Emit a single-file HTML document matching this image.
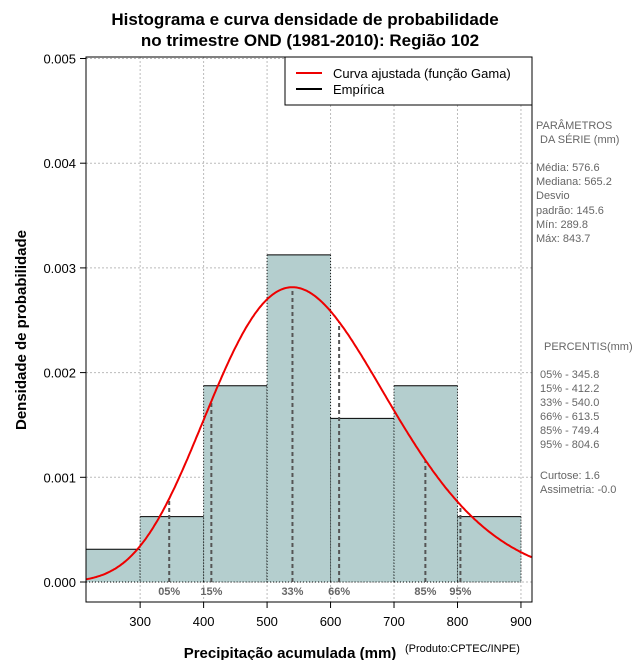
<!DOCTYPE html>
<html><head><meta charset="utf-8"><style>
body{margin:0;background:#fff}
svg text{font-family:"Liberation Sans",sans-serif}
</style></head><body>
<svg id="c" width="640" height="660" xmlns="http://www.w3.org/2000/svg">
<text x="305" y="25" text-anchor="middle" font-size="17" font-weight="bold">Histograma e curva densidade de probabilidade</text>
<text x="310" y="46" text-anchor="middle" font-size="17" font-weight="bold">no trimestre OND (1981-2010): Região 102</text>
<g id="grid"></g><g id="bars"></g><g id="pct"></g><g id="curve"></g><g id="axes"></g>
<rect x="86" y="57" width="446" height="545" fill="none" stroke="#000" stroke-width="1"/>
<g>
<rect x="285" y="57" width="247" height="48" fill="#fff" stroke="#000"/>
<line x1="296" y1="73" x2="322" y2="73" stroke="#e00" stroke-width="2"/>
<text x="333" y="78" font-size="13">Curva ajustada (função Gama)</text>
<line x1="296" y1="89" x2="322" y2="89" stroke="#000" stroke-width="2"/>
<text x="333" y="94" font-size="13">Empírica</text>
</g>
<g font-size="11" fill="#666">
<text x="536" y="129">PARÂMETROS</text><text x="540" y="143">DA SÉRIE (mm)</text>
<text x="536" y="171">Média:  576.6</text><text x="536" y="185">Mediana:  565.2</text>
<text x="536" y="199">Desvio</text><text x="536" y="214">padrão:  145.6</text>
<text x="536" y="228">Mín:  289.8</text><text x="536" y="242">Máx:  843.7</text>
<text x="544" y="350">PERCENTIS(mm)</text>
<text x="540" y="378">05% -  345.8</text><text x="540" y="392">15% -  412.2</text>
<text x="540" y="406">33% -  540.0</text><text x="540" y="420">66% -  613.5</text>
<text x="540" y="434">85% -  749.4</text><text x="540" y="448">95% -  804.6</text>
<text x="540" y="479">Curtose:  1.6</text><text x="540" y="493">Assimetria:  -0.0</text>
</g>
<text transform="translate(26,330) rotate(-90)" text-anchor="middle" font-size="15" font-weight="bold">Densidade de probabilidade</text>
<text x="290" y="658" text-anchor="middle" font-size="15" font-weight="bold">Precipitação acumulada (mm)</text>
<text x="405" y="652" font-size="11">(Produto:CPTEC/INPE)</text>
</svg>
<script>
const binEdges=[200,300,400,500,600,700,800,900];
const densities=[0.0003125,0.000625,0.001875,0.003125,0.0015625,0.001875,0.000625];
const xTicks=[300,400,500,600,700,800,900];
const yTicks=[0,0.001,0.002,0.003,0.004,0.005];
const yTickLabels=["0.000","0.001","0.002","0.003","0.004","0.005"];
const pctLabels=["05%","15%","33%","66%","85%","95%"];
const pctValues=[345.8,412.2,540.0,613.5,749.4,804.6];
const gammaMean=576.6, gammaSd=145.6;
const X0=214.7,X1=917.4,PL=86,PR=532,Y0=582,YS=104.7;
const sx=v=>PL+(v-X0)/(X1-X0)*(PR-PL);
const sy=v=>Y0-v*1000*YS;
const NS="http://www.w3.org/2000/svg";
function mk(p,t,a){const e=document.createElementNS(NS,t);for(const k in a)e.setAttribute(k,a[k]);document.getElementById(p).appendChild(e);return e;}
function lnGamma(z){const g=7,c=[0.99999999999980993,676.5203681218851,-1259.1392167224028,771.32342877765313,-176.61520062751019,12.507343278686905,-0.13857109526572012,9.9843695780195716e-6,1.5056327351493116e-7];z-=1;let x=c[0];for(let i=1;i<9;i++)x+=c[i]/(z+i);const t=z+g+0.5;return 0.5*Math.log(2*Math.PI)+(z+0.5)*Math.log(t)-t+Math.log(x);}
const k=(gammaMean/gammaSd)**2, th=gammaSd*gammaSd/gammaMean;
const pdf=x=>Math.exp((k-1)*Math.log(x)-x/th-lnGamma(k)-k*Math.log(th));
xTicks.forEach(v=>{const l=mk('grid','line',{x1:sx(v),x2:sx(v),y1:57,y2:602,stroke:'#bbb','stroke-dasharray':'2,2'});


const t=mk('axes','line',{x1:sx(v),x2:sx(v),y1:602,y2:608,stroke:'#000'});


const tx=mk('axes','text',{x:sx(v),y:626,'text-anchor':'middle','font-size':13});tx.textContent=v;

});
yTicks.forEach((v,i)=>{const l=mk('grid','line',{x1:86,x2:532,y1:sy(v),y2:sy(v),stroke:'#bbb','stroke-dasharray':'2,2'});


const t=mk('axes','line',{x1:80,x2:86,y1:sy(v),y2:sy(v),stroke:'#000'});


const tx=mk('axes','text',{x:76,y:sy(v)+5,'text-anchor':'end','font-size':13});tx.textContent=yTickLabels[i];

});
densities.forEach((d,i)=>{const a=Math.max(sx(binEdges[i]),PL),b=sx(binEdges[i+1]);
const r=mk('bars','rect',{x:a,y:sy(d),width:b-a,height:Y0-sy(d),fill:'#b4cece'});


mk('bars','line',{x1:a,x2:b,y1:sy(d),y2:sy(d),stroke:'#000'});
[a,b].forEach(x=>{if(x>PL)mk('bars','line',{x1:x,x2:x,y1:sy(d),y2:Y0,stroke:'#000','stroke-dasharray':'1,2'});});
mk('bars','line',{x1:a,x2:b,y1:Y0,y2:Y0,stroke:'#000','stroke-dasharray':'1,2'});});
pctValues.forEach((v,i)=>{const l=mk('pct','line',{x1:sx(v),x2:sx(v),y1:Y0,y2:sy(pdf(v)),stroke:'#555','stroke-width':2,'stroke-dasharray':'4,3'});


const t=mk('pct','text',{x:sx(v),y:595,'text-anchor':'middle','font-size':11,'font-weight':'bold',fill:'#666'});t.textContent=pctLabels[i];

});
let d='';for(let x=X0;x<=X1;x+=2){d+=(d?'L':'M')+sx(x).toFixed(1)+','+sy(pdf(x)).toFixed(1);}
const p=mk('curve','path',{d:d,fill:'none',stroke:'#e00','stroke-width':2});


</script>
</body></html>
